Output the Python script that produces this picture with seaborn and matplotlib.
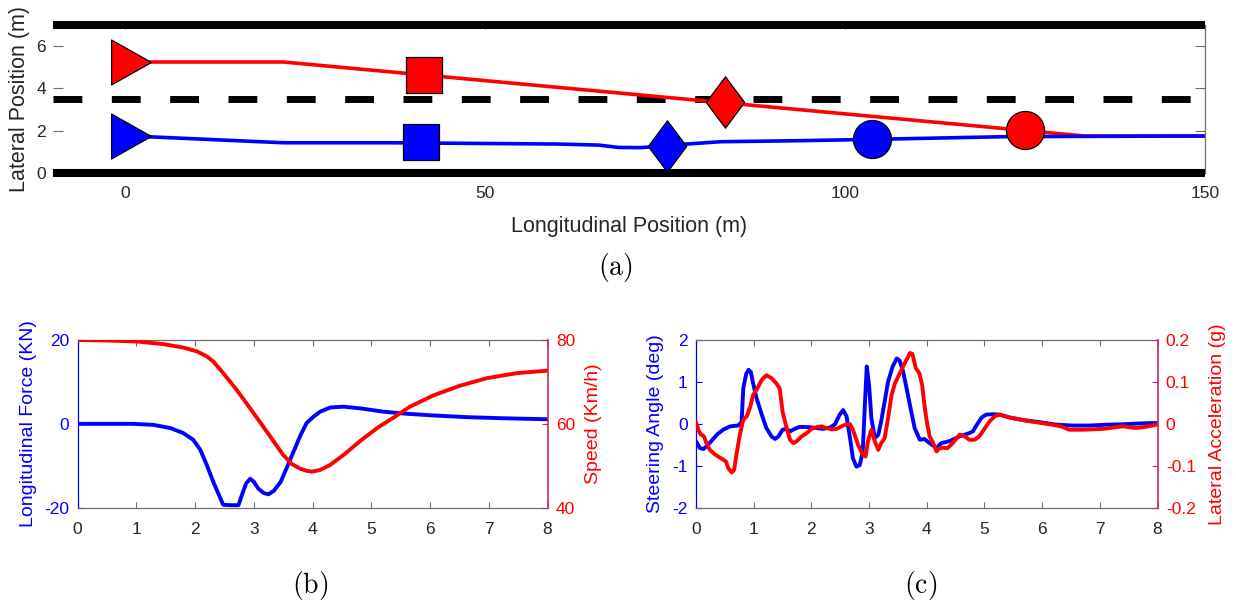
import matplotlib
matplotlib.use("Agg")
import matplotlib.pyplot as plt
from matplotlib.path import Path
import seaborn as sns

# ---------------- data ----------------
# (a) road + trajectories
lane_x = [-10, 150]
lane_edges = [0.0, 7.0]
lane_center = 3.5

red_path_x = [0.9, 22.0, 133.3, 150.0]
red_path_y = [5.25, 5.25, 1.75, 1.75]
blue_path_x = [0.9, 22.0, 37.0, 60.0, 65.8, 68.5, 71.5, 75.3, 78.0, 82.8, 94.0, 103.7, 111.0, 122.6, 150.0]
blue_path_y = [1.75, 1.43, 1.43, 1.37, 1.32, 1.21, 1.20, 1.28, 1.37, 1.48, 1.53, 1.59, 1.64, 1.72, 1.75]

red_mark_x = [0.9, 41.5, 83.3, 125.0]
red_mark_y = [5.25, 4.62, 3.36, 2.03]
blue_mark_x = [0.9, 41.1, 75.3, 103.7]
blue_mark_y = [1.75, 1.46, 1.28, 1.59]
mark_kind = ["tri", "square", "diamond", "circle"]

# (b) longitudinal force and speed
t_force = [0, 0.44, 0.95, 1.29, 1.58, 1.80, 1.97, 2.09, 2.20, 2.31, 2.43, 2.48, 2.60, 2.74, 2.80,
           2.87, 2.94, 3.00, 3.08, 3.17, 3.25, 3.34, 3.46, 3.57, 3.69, 3.80, 3.90, 4.02, 4.13, 4.30,
           4.53, 4.81, 5.21, 5.61, 6.06, 6.63, 7.20, 8.00]
force = [0, 0, 0, -0.24, -1.0, -2.2, -3.8, -6.2, -9.8, -13.8, -17.7, -19.3, -19.4, -19.4, -16.9,
         -14.2, -13.1, -13.8, -15.5, -16.5, -16.8, -16.0, -13.8, -10.2, -6.2, -2.6, 0.2, 1.75, 2.9, 3.9,
         4.1, 3.7, 2.9, 2.4, 2.0, 1.6, 1.35, 1.1]
t_speed = [0, 0.44, 1.01, 1.47, 1.80, 2.03, 2.20, 2.31, 2.48, 2.71, 3.00, 3.28, 3.50, 3.65, 3.79,
           3.90, 3.99, 4.13, 4.30, 4.53, 4.81, 5.10, 5.38, 5.66, 6.06, 6.51, 6.97, 7.48, 8.00]
speed = [80.0, 79.9, 79.65, 79.0, 78.2, 77.3, 76.1, 74.9, 72.1, 68.1, 62.5, 57.0, 52.6, 50.4, 49.3,
         48.8, 48.6, 49.0, 50.2, 52.6, 55.9, 59.0, 61.5, 64.1, 66.8, 69.1, 70.9, 72.1, 72.7]

# (c) steering angle and lateral acceleration
t_steer = [0.00, 0.07, 0.13, 0.21, 0.36, 0.47, 0.59, 0.73, 0.79, 0.82, 0.87, 0.91, 0.95, 0.99, 1.05,
           1.14, 1.22, 1.31, 1.37, 1.43, 1.50, 1.57, 1.63, 1.71, 1.80, 1.97, 2.20, 2.32, 2.41, 2.49,
           2.55, 2.61, 2.67, 2.72, 2.78, 2.84, 2.89, 2.93, 2.96, 3.00, 3.04, 3.10, 3.16, 3.21, 3.27,
           3.33, 3.41, 3.48, 3.53, 3.59, 3.65, 3.72, 3.79, 3.88, 3.96, 4.05, 4.17, 4.25, 4.40, 4.57,
           4.74, 4.80, 4.86, 4.95, 5.03, 5.15, 5.26, 5.44, 5.67, 5.96, 6.25, 6.53, 6.82, 7.11, 7.40,
           7.69, 7.98]
steer = [-0.42, -0.58, -0.60, -0.50, -0.26, -0.14, -0.06, -0.04, 0.04, 0.85, 1.19, 1.29, 1.24, 0.97, 0.61,
         0.22, -0.10, -0.30, -0.36, -0.30, -0.14, -0.12, -0.18, -0.12, -0.07, -0.08, -0.12, -0.09, -0.01, 0.22,
         0.33, 0.18, -0.34, -0.82, -1.02, -0.98, -0.66, 0.53, 1.37, 0.93, 0.14, -0.34, -0.26, 0.06, 0.53,
         1.01, 1.37, 1.56, 1.51, 1.25, 0.85, 0.37, -0.10, -0.38, -0.36, -0.46, -0.58, -0.46, -0.41, -0.30,
         -0.22, -0.18, -0.04, 0.15, 0.22, 0.23, 0.22, 0.15, 0.09, 0.04, -0.02, -0.04, -0.04, -0.02, -0.01,
         0.01, 0.02]
t_acc = [0.00, 0.04, 0.08, 0.14, 0.18, 0.24, 0.33, 0.42, 0.48, 0.52, 0.56, 0.62, 0.66, 0.70, 0.76,
         0.82, 0.88, 0.94, 0.99, 1.05, 1.14, 1.22, 1.31, 1.39, 1.45, 1.50, 1.57, 1.63, 1.69, 1.75,
         1.83, 1.92, 2.00, 2.09, 2.18, 2.26, 2.35, 2.44, 2.52, 2.61, 2.67, 2.72, 2.81, 2.89, 2.94,
         2.98, 3.04, 3.10, 3.16, 3.21, 3.27, 3.33, 3.39, 3.45, 3.52, 3.59, 3.65, 3.71, 3.75, 3.81,
         3.87, 3.92, 3.96, 4.00, 4.05, 4.10, 4.17, 4.22, 4.29, 4.36, 4.45, 4.57, 4.65, 4.74, 4.83,
         4.91, 5.00, 5.09, 5.18, 5.26, 5.44, 5.79, 6.13, 6.33, 6.47, 6.71, 7.05, 7.40, 7.63, 7.80,
         7.98]
acc = [0.004, -0.014, -0.025, -0.030, -0.046, -0.062, -0.073, -0.081, -0.086, -0.090, -0.106, -0.116, -0.110, -0.074, -0.026,
       0.010, 0.018, 0.041, 0.069, 0.081, 0.105, 0.116, 0.109, 0.097, 0.085, 0.030, -0.010, -0.038, -0.046, -0.041,
       -0.030, -0.022, -0.012, -0.008, -0.006, -0.010, -0.013, -0.012, -0.006, -0.001, -0.001, -0.014, -0.050, -0.074, -0.078,
       -0.042, -0.014, -0.042, -0.062, -0.046, -0.034, 0.014, 0.069, 0.097, 0.117, 0.137, 0.153, 0.169, 0.167, 0.133,
       0.121, 0.093, 0.045, 0.006, -0.030, -0.042, -0.066, -0.058, -0.057, -0.058, -0.046, -0.026, -0.029, -0.038, -0.038,
       -0.030, -0.012, 0.006, 0.018, 0.022, 0.015, 0.006, -0.001, -0.006, -0.014, -0.014, -0.012, -0.006, -0.010, -0.007,
       -0.002]

# tick labels
a_xticks = [0, 50, 100, 150]
a_yticks = [0, 2, 4, 6]
bc_xticks = [0, 1, 2, 3, 4, 5, 6, 7, 8]
b_left_ticks = [-20, 0, 20]
b_right_ticks = [40, 60, 80]
c_left_ticks = [-2, -1, 0, 1, 2]
c_right_ticks = [-0.2, -0.1, 0, 0.1, 0.2]
c_right_labels = ["-0.2", "-0.1", "0", "0.1", "0.2"]

# ---------------- style ----------------
sns.set_theme(style="white")
plt.rcParams["font.family"] = ["Liberation Sans", "DejaVu Sans"]
plt.rcParams["axes.unicode_minus"] = False

BLUE = "#0000FF"
RED = "#FF0000"
CRIMSON = "#C8265E"
GRAY = "#262626"
SPINE = "#6E6E6E"
W, H = 1236, 608

fig = plt.figure(figsize=(W / 100, H / 100), dpi=100)


def rect(l, r, t, b):
    return [l / W, 1 - b / H, (r - l) / W, (b - t) / H]


# ---------------- (a) ----------------
axA = fig.add_axes(rect(53, 1205, 25, 173))
for yy in lane_edges:
    sns.lineplot(x=lane_x, y=[yy, yy], color="black", lw=5.8, ax=axA, estimator=None, sort=False)
    axA.lines[-1].set_clip_on(False)
    axA.lines[-1].set_solid_capstyle("butt")
    axA.lines[-1].set_zorder(5)
sns.lineplot(x=lane_x, y=[lane_center, lane_center], color="black", lw=5, ax=axA,
             estimator=None, sort=False)
axA.lines[-1].set_linestyle((0, (4.15, 4.25)))
axA.lines[-1].set_dash_capstyle("butt")

sns.lineplot(x=red_path_x, y=red_path_y, color=RED, lw=2.6, ax=axA, estimator=None, sort=False)
sns.lineplot(x=blue_path_x, y=blue_path_y, color=BLUE, lw=2.6, ax=axA, estimator=None, sort=False)

tri = Path([(-0.443, -0.5), (0.443, 0.0), (-0.443, 0.5), (-0.443, -0.5)],
           [Path.MOVETO, Path.LINETO, Path.LINETO, Path.CLOSEPOLY])
dia = Path([(0, 0.5), (0.373, 0), (0, -0.5), (-0.373, 0), (0, 0.5)],
           [Path.MOVETO, Path.LINETO, Path.LINETO, Path.LINETO, Path.CLOSEPOLY])
marker_map = {"tri": (tri, 32.4 ** 2), "square": ("s", 26.3 ** 2),
              "diamond": (dia, 37.0 ** 2), "circle": ("o", 27.4 ** 2)}
for xs, ys, col in [(red_mark_x, red_mark_y, RED), (blue_mark_x, blue_mark_y, BLUE)]:
    for xv, yv, kind in zip(xs, ys, mark_kind):
        m, s = marker_map[kind]
        sns.scatterplot(x=[xv], y=[yv], marker=m, s=s, color=col, edgecolor="black",
                        linewidth=0.9, ax=axA, zorder=6)

axA.set_xlim(-10, 150)
axA.set_ylim(0, 7)
axA.set_xticks(a_xticks)
axA.set_yticks(a_yticks)
axA.tick_params(axis="x", direction="in", top=True, bottom=True, length=3, width=0.8,
                color=SPINE, labelsize=12.5, labelcolor=GRAY, pad=9)
axA.tick_params(axis="y", direction="in", left=True, right=True, length=7, width=0.8,
                color=SPINE, labelsize=12.5, labelcolor=GRAY, pad=5)
for k, sp in axA.spines.items():
    sp.set_color(SPINE)
    sp.set_linewidth(0.9)
axA.spines["left"].set_visible(False)
axA.set_xlabel("Longitudinal Position (m)", fontsize=15.5, color=GRAY)
axA.set_ylabel("Lateral Position (m)", fontsize=15.5, color=GRAY)
axA.xaxis.set_label_coords(0.5, -0.29)
axA.yaxis.set_label_coords(-0.020, 0.5)


def style_dual(ax, ax2, lcolor, rcolor):
    ax.set_xlim(0, 8)
    ax.set_xticks(bc_xticks)
    ax.tick_params(axis="x", direction="in", top=True, bottom=True, length=4, width=0.8,
                   color=SPINE, labelsize=12.5, labelcolor=GRAY, pad=10)
    ax.tick_params(axis="y", direction="in", left=True, right=False, length=4, width=0.8,
                   color=lcolor, labelsize=12.5, labelcolor=lcolor, pad=6)
    ax2.tick_params(axis="y", direction="in", left=False, right=True, length=4, width=0.8,
                    color=rcolor, labelsize=12.5, labelcolor=RED, pad=6)
    for sp in ax.spines.values():
        sp.set_color(SPINE)
        sp.set_linewidth(0.9)
    ax.spines["left"].set_color(lcolor)
    ax.spines["right"].set_visible(False)
    for k in ["top", "bottom", "left"]:
        ax2.spines[k].set_visible(False)
    ax2.spines["right"].set_color(rcolor)
    ax2.spines["right"].set_linewidth(1.2)


# ---------------- (b) ----------------
axB = fig.add_axes(rect(77.5, 547.5, 340, 507.7))
axB2 = axB.twinx()
sns.lineplot(x=t_force, y=force, color=BLUE, lw=2.8, ax=axB, estimator=None, sort=False)
sns.lineplot(x=t_speed, y=speed, color=RED, lw=2.8, ax=axB2, estimator=None, sort=False)
axB.set_ylim(-20, 20)
axB.set_yticks(b_left_ticks)
axB2.set_ylim(40, 80)
axB2.set_yticks(b_right_ticks)
style_dual(axB, axB2, BLUE, CRIMSON)
axB.set_ylabel("Longitudinal Force (KN)", fontsize=14, color=BLUE)
axB2.set_ylabel("Speed (Km/h)", fontsize=14, color=RED)
axB.yaxis.set_label_coords(-0.086, 0.5)
axB2.yaxis.set_label_coords(1.080, 0.5)

# ---------------- (c) ----------------
axC = fig.add_axes(rect(696, 1157.5, 340, 507.7))
axC2 = axC.twinx()
sns.lineplot(x=t_steer, y=steer, color=BLUE, lw=2.8, ax=axC, estimator=None, sort=False)
sns.lineplot(x=t_acc, y=acc, color=RED, lw=2.8, ax=axC2, estimator=None, sort=False)
axC.set_ylim(-2, 2)
axC.set_yticks(c_left_ticks)
axC2.set_ylim(-0.2, 0.2)
axC2.set_yticks(c_right_ticks)
axC2.set_yticklabels(c_right_labels)
style_dual(axC, axC2, BLUE, CRIMSON)
axC.set_ylabel("Steering Angle (deg)", fontsize=14, color=BLUE)
axC2.set_ylabel("Lateral Acceleration (g)", fontsize=14, color=RED)
axC.yaxis.set_label_coords(-0.069, 0.5)
axC2.yaxis.set_label_coords(1.112, 0.5)

# ---------------- captions ----------------
for lab, xp, yp in [("a", 615, 268), ("b", 310, 586), ("c", 921, 586)]:
    fig.text(xp / W, 1 - yp / H, r"$(\mathrm{%s})$" % lab, fontsize=20, color="black",
             ha="center", va="center", math_fontfamily="cm")

fig.savefig("out.png", dpi=100)
